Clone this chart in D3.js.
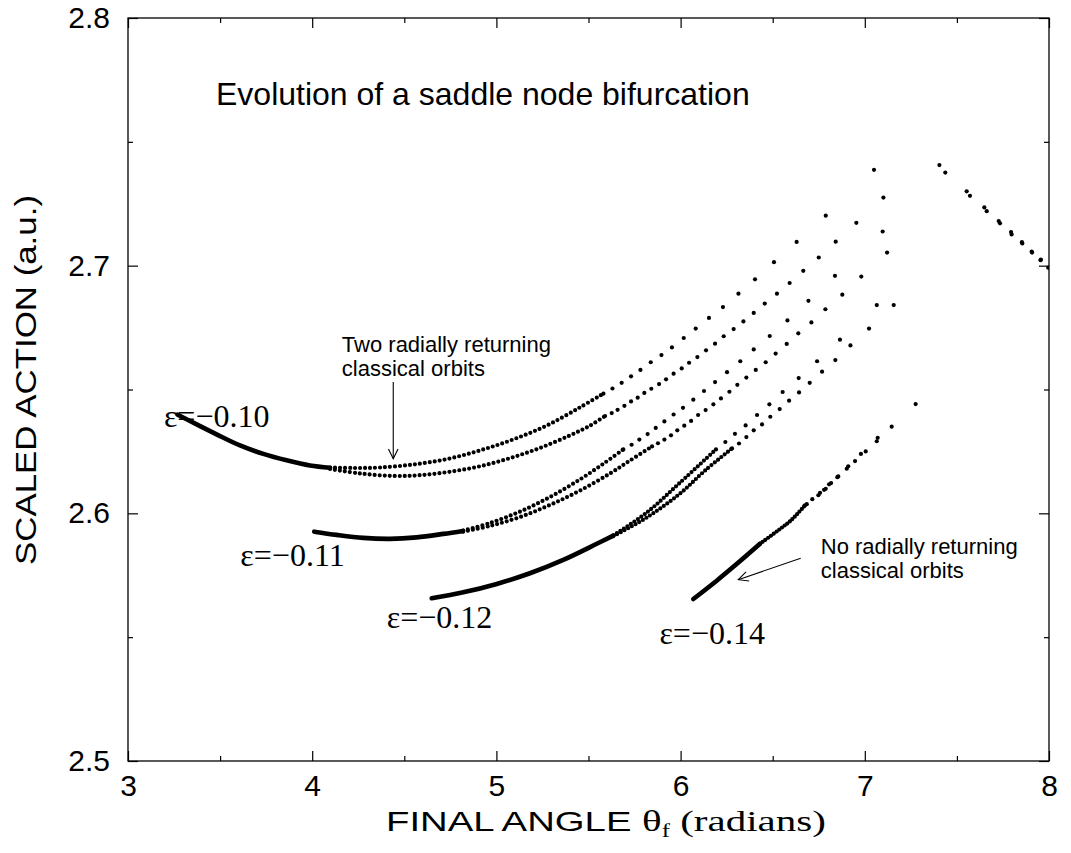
<!DOCTYPE html>
<html>
<head>
<meta charset="utf-8">
<script src="https://cdn.jsdelivr.net/npm/d3@7"></script>
<style>
  body { margin: 0; background: #fff; }
  svg text { fill: #000; }
</style>
</head>
<body>
<script>
// Values: [final angle (rad), scaled action (a.u.)]
const xTicks = [3, 4, 5, 6, 7, 8];
const yTicks = [2.5, 2.6, 2.7, 2.8];
const xMinor = [3.5, 4.5, 5.5, 6.5, 7.5];
const yMinor = [2.55, 2.65, 2.75];

// eps = -0.10 : dense (solid looking) part, two dotted branches, sparse dots
const e10Solid = [[3.270,2.6398],[3.373,2.6359],[3.481,2.6319],[3.608,2.6274],[3.735,2.6240],[3.861,2.6214],[3.988,2.6193],[4.097,2.6184]];
const e10UpperTrace = [[4.097,2.6185],[4.232,2.6183],[4.368,2.6185],[4.547,2.6197],[4.732,2.6219],[4.911,2.6254],[5.090,2.6298],[5.275,2.6355],[5.454,2.6428],[5.580,2.6483]];
const e10LowerTrace = [[4.097,2.6179],[4.260,2.6161],[4.439,2.6151],[4.585,2.6154],[4.748,2.6168],[4.911,2.6190],[5.074,2.6223],[5.237,2.6264],[5.400,2.6315],[5.508,2.6354],[5.590,2.6393]];
const e10UpperDots = [[5.581,2.6483],[5.630,2.6504],[5.680,2.6527],[5.731,2.6553],[5.782,2.6579],[5.838,2.6610],[5.896,2.6639],[5.953,2.6670],[6.017,2.6708],[6.082,2.6746],[6.154,2.6789],[6.230,2.6833],[6.314,2.6887],[6.404,2.6945],[6.507,2.7014],[6.630,2.7096],[6.788,2.7202],[7.050,2.7387]];
const e10LowerDots = [[5.590,2.6393],[5.626,2.6405],[5.658,2.6418],[5.695,2.6434],[5.731,2.6452],[5.767,2.6467],[5.803,2.6486],[5.841,2.6503],[5.883,2.6522],[5.921,2.6541],[5.962,2.6564],[6.006,2.6585],[6.046,2.6608],[6.091,2.6631],[6.138,2.6658],[6.187,2.6685],[6.234,2.6715],[6.288,2.6744],[6.341,2.6775],[6.397,2.6809],[6.457,2.6847],[6.523,2.6887],[6.592,2.6930],[6.666,2.6979],[6.750,2.7033],[6.842,2.7097],[6.954,2.7173],[7.101,2.7275]];

// eps = -0.11
const e11Solid = [[4.011,2.5926],[4.133,2.5913],[4.277,2.5901],[4.422,2.5897],[4.567,2.5903],[4.712,2.5917],[4.819,2.5929]];
const e11UpperTrace = [[4.819,2.5930],[4.965,2.5961],[5.128,2.6007],[5.291,2.6066],[5.454,2.6137],[5.590,2.6205],[5.689,2.6258]];
const e11LowerTrace = [[4.819,2.5926],[4.965,2.5949],[5.128,2.5985],[5.291,2.6034],[5.454,2.6092],[5.617,2.6161],[5.725,2.6213],[5.845,2.6270]];
const e11UpperDots = [[5.689,2.6258],[5.734,2.6277],[5.776,2.6298],[5.821,2.6320],[5.865,2.6345],[5.912,2.6371],[5.962,2.6399],[6.013,2.6426],[6.069,2.6459],[6.127,2.6494],[6.187,2.6530],[6.252,2.6570],[6.324,2.6614],[6.397,2.6662],[6.484,2.6716],[6.580,2.6779],[6.694,2.6858],[6.838,2.6959],[7.097,2.7138]];
const e11LowerDots = [[5.845,2.6270],[5.877,2.6283],[5.912,2.6298],[5.948,2.6315],[5.982,2.6335],[6.020,2.6354],[6.057,2.6373],[6.095,2.6397],[6.136,2.6417],[6.178,2.6440],[6.219,2.6464],[6.265,2.6491],[6.308,2.6519],[6.357,2.6548],[6.408,2.6579],[6.462,2.6610],[6.516,2.6645],[6.576,2.6684],[6.639,2.6727],[6.710,2.6771],[6.786,2.6824],[6.878,2.6883],[6.981,2.6956],[7.121,2.7053]];

// eps = -0.12
const e12Solid = [[4.649,2.5657],[4.820,2.5681],[5.002,2.5715],[5.182,2.5758],[5.363,2.5812],[5.545,2.5877],[5.635,2.5910]];
const e12UpperTrace = [[5.635,2.5911],[5.816,2.6003],[5.997,2.6124],[6.192,2.6258]];
const e12LowerTrace = [[5.635,2.5908],[5.816,2.5983],[5.997,2.6080],[6.133,2.6173],[6.279,2.6262]];
const e12UpperDots = [[6.192,2.6258],[6.243,2.6288],[6.295,2.6321],[6.353,2.6355],[6.415,2.6397],[6.482,2.6440],[6.554,2.6490],[6.641,2.6546],[6.741,2.6614],[6.865,2.6701],[7.065,2.6841]];
const e12LowerDots = [[6.279,2.6262],[6.317,2.6282],[6.357,2.6308],[6.397,2.6335],[6.442,2.6359],[6.487,2.6390],[6.538,2.6421],[6.589,2.6455],[6.643,2.6488],[6.701,2.6527],[6.768,2.6572],[6.840,2.6619],[6.922,2.6678],[7.023,2.6746],[7.157,2.6841]];

// eps = -0.14 (no radially returning orbits)
const e14Solid = [[6.069,2.5654],[6.196,2.5728],[6.304,2.5795],[6.431,2.5877]];
const e14Trace = [[6.431,2.5877],[6.540,2.5937],[6.600,2.5972],[6.675,2.6032]];
const e14Dots = [[6.675,2.6032],[6.685,2.6037],[6.715,2.6057],[6.748,2.6073],[6.757,2.6083],[6.779,2.6095],[6.788,2.6099],[6.806,2.6117],[6.817,2.6122],[6.851,2.6146],[6.856,2.6149],[6.902,2.6180],[6.910,2.6190],[6.947,2.6211],[6.979,2.6240],[7.005,2.6250],[7.065,2.6291],[7.070,2.6305],[7.146,2.6350],[7.276,2.6441]];

// points past the top of the fold, right edge
const farRightDots = [[7.405,2.7406],[7.437,2.7376],[7.553,2.7300],[7.571,2.7282],[7.649,2.7235],[7.662,2.7220],[7.727,2.7180],[7.734,2.7171],[7.794,2.7136],[7.797,2.7126],[7.853,2.7095],[7.855,2.7090],[7.906,2.7057],[7.908,2.7053],[7.954,2.7022],[7.956,2.7025],[7.996,2.6992]];

const epsLabels = ["ε=−0.10", "ε=−0.11", "ε=−0.12", "ε=−0.14"];

// ---- layout ----
const W = 1071, H = 853;
const margin = {top: 18, right: 22, bottom: 92, left: 128};
const sans = "'Liberation Sans', Arial, Helvetica, sans-serif";
const serif = "'Liberation Serif', 'Times New Roman', Times, serif";

const svg = d3.select("body").append("svg")
    .attr("width", W)
    .attr("height", H);

const x = d3.scaleLinear().domain([3, 8]).range([margin.left, W - margin.right]);
const y = d3.scaleLinear().domain([2.5, 2.8]).range([H - margin.bottom, margin.top]);

svg.append("clipPath").attr("id", "plot")
  .append("rect")
    .attr("x", margin.left).attr("y", margin.top)
    .attr("width", W - margin.left - margin.right)
    .attr("height", H - margin.top - margin.bottom);

const marks = svg.append("g").attr("clip-path", "url(#plot)");
const line = d3.line().curve(d3.curveCatmullRom).x(d => x(d[0])).y(d => y(d[1]));

// solid looking parts (points so dense they merge)
[e10Solid, e11Solid, e12Solid, e14Solid].forEach(s => {
    marks.append("path").datum(s)
        .attr("fill", "none").attr("stroke", "#000")
        .attr("stroke-width", 4.6).attr("stroke-linecap", "round")
        .attr("d", line);
});

// closely spaced dots, drawn as a dotted line
[[e10UpperTrace, 5], [e10LowerTrace, 5], [e11UpperTrace, 5], [e11LowerTrace, 5],
 [e12UpperTrace, 4.2], [e12LowerTrace, 4.2], [e14Trace, 3.4]].forEach(([s, gap]) => {
    marks.append("path").datum(s)
        .attr("fill", "none").attr("stroke", "#000")
        .attr("stroke-width", 4.2).attr("stroke-linecap", "round")
        .attr("stroke-dasharray", `0 ${gap}`)
        .attr("d", line);
});

// separate dots
const allDots = [].concat(e10UpperDots, e10LowerDots, e11UpperDots, e11LowerDots,
    e12UpperDots, e12LowerDots, e14Dots, farRightDots);
marks.selectAll("circle.dot")
    .data(allDots)
    .enter().append("circle")
    .attr("class", "dot")
    .attr("cx", d => x(d[0]))
    .attr("cy", d => y(d[1]))
    .attr("r", 2.1)
    .attr("fill", "#000");

// ---- axes: ticks pointing inward on all four sides ----
const bottom = H - margin.bottom, right = W - margin.right;
function styleAxis(g) {
    g.select(".domain").remove();
    g.selectAll(".tick line").attr("stroke", "#000").attr("stroke-width", 1.2);
    g.selectAll("text").style("font-family", sans).style("font-size", "30px").attr("fill", "#000");
}

svg.append("g").attr("transform", `translate(0,${bottom})`)
    .call(d3.axisBottom(x).tickValues(xTicks).tickSizeInner(-10).tickSizeOuter(0).tickPadding(14).tickFormat(d3.format("d")))
    .call(styleAxis);
svg.append("g").attr("transform", `translate(0,${bottom})`)
    .call(d3.axisBottom(x).tickValues(xMinor).tickSizeInner(-5).tickSizeOuter(0).tickFormat(""))
    .call(styleAxis);
svg.append("g").attr("transform", `translate(0,${margin.top})`)
    .call(d3.axisTop(x).tickValues(xTicks).tickSizeInner(-10).tickSizeOuter(0).tickFormat(""))
    .call(styleAxis);
svg.append("g").attr("transform", `translate(0,${margin.top})`)
    .call(d3.axisTop(x).tickValues(xMinor).tickSizeInner(-5).tickSizeOuter(0).tickFormat(""))
    .call(styleAxis);

svg.append("g").attr("transform", `translate(${margin.left},0)`)
    .call(d3.axisLeft(y).tickValues(yTicks).tickSizeInner(-10).tickSizeOuter(0).tickPadding(18).tickFormat(d3.format(".1f")))
    .call(styleAxis);
svg.append("g").attr("transform", `translate(${margin.left},0)`)
    .call(d3.axisLeft(y).tickValues(yMinor).tickSizeInner(-5).tickSizeOuter(0).tickFormat(""))
    .call(styleAxis);
svg.append("g").attr("transform", `translate(${right},0)`)
    .call(d3.axisRight(y).tickValues(yTicks).tickSizeInner(-10).tickSizeOuter(0).tickFormat(""))
    .call(styleAxis);
svg.append("g").attr("transform", `translate(${right},0)`)
    .call(d3.axisRight(y).tickValues(yMinor).tickSizeInner(-5).tickSizeOuter(0).tickFormat(""))
    .call(styleAxis);

// frame
svg.append("rect")
    .attr("x", margin.left).attr("y", margin.top)
    .attr("width", right - margin.left).attr("height", bottom - margin.top)
    .attr("fill", "none").attr("stroke", "#000").attr("stroke-width", 1.3);

// ---- axis titles (the original uses a wide face, so stretch to measured length) ----
const xt = svg.append("text")
    .attr("x", 606).attr("y", 831)
    .attr("text-anchor", "middle")
    .attr("textLength", 440).attr("lengthAdjust", "spacingAndGlyphs");
xt.append("tspan").style("font-family", sans).style("font-size", "28px").text("FINAL ANGLE ");
xt.append("tspan").style("font-family", serif).style("font-size", "30px").text("θ");
xt.append("tspan").style("font-family", serif).style("font-size", "18px").attr("dy", 6).text("f");
xt.append("tspan").style("font-family", serif).style("font-size", "30px").attr("dy", -6).text(" (radians)");

svg.append("text")
    .attr("transform", `translate(36,380) rotate(-90)`)
    .attr("text-anchor", "middle")
    .attr("textLength", 370).attr("lengthAdjust", "spacingAndGlyphs")
    .style("font-family", sans).style("font-size", "30px")
    .text("SCALED ACTION (a.u.)");

// ---- annotations ----
svg.append("text")
    .attr("x", 216).attr("y", 105)
    .style("font-family", sans).style("font-size", "32px")
    .text("Evolution of a saddle node bifurcation");

const labelPos = [[3.195, 2.6348], [3.610, 2.5788], [4.405, 2.5537], [5.885, 2.5472]];
labelPos.forEach((p, i) => {
    svg.append("text")
        .attr("x", x(p[0])).attr("y", y(p[1]))
        .style("font-family", serif).style("font-size", "32px")
        .text(epsLabels[i]);
});

function note(lines, px, py) {
    const t = svg.append("text").attr("x", x(px)).attr("y", y(py))
        .style("font-family", sans).style("font-size", "22px");
    lines.forEach((s, i) => t.append("tspan").attr("x", x(px)).attr("dy", i ? 24 : 0).text(s));
}
note(["Two radially returning", "classical orbits"], 4.161, 2.6650);
note(["No radially returning", "classical orbits"], 6.761, 2.5837);

function arrow(from, to) {
    const x1 = x(from[0]), y1 = y(from[1]), x2 = x(to[0]), y2 = y(to[1]);
    const a = Math.atan2(y2 - y1, x2 - x1), len = 11, spread = 0.45;
    svg.append("line").attr("x1", x1).attr("y1", y1).attr("x2", x2).attr("y2", y2)
        .attr("stroke", "#000").attr("stroke-width", 1.1);
    svg.append("path")
        .attr("d", `M${x2 - len * Math.cos(a - spread)},${y2 - len * Math.sin(a - spread)}L${x2},${y2}L${x2 - len * Math.cos(a + spread)},${y2 - len * Math.sin(a + spread)}`)
        .attr("fill", "none").attr("stroke", "#000").attr("stroke-width", 1.1);
}
arrow([4.440, 2.6530], [4.440, 2.6220]);
arrow([6.652, 2.5819], [6.313, 2.5732]);
</script>
</body>
</html>
